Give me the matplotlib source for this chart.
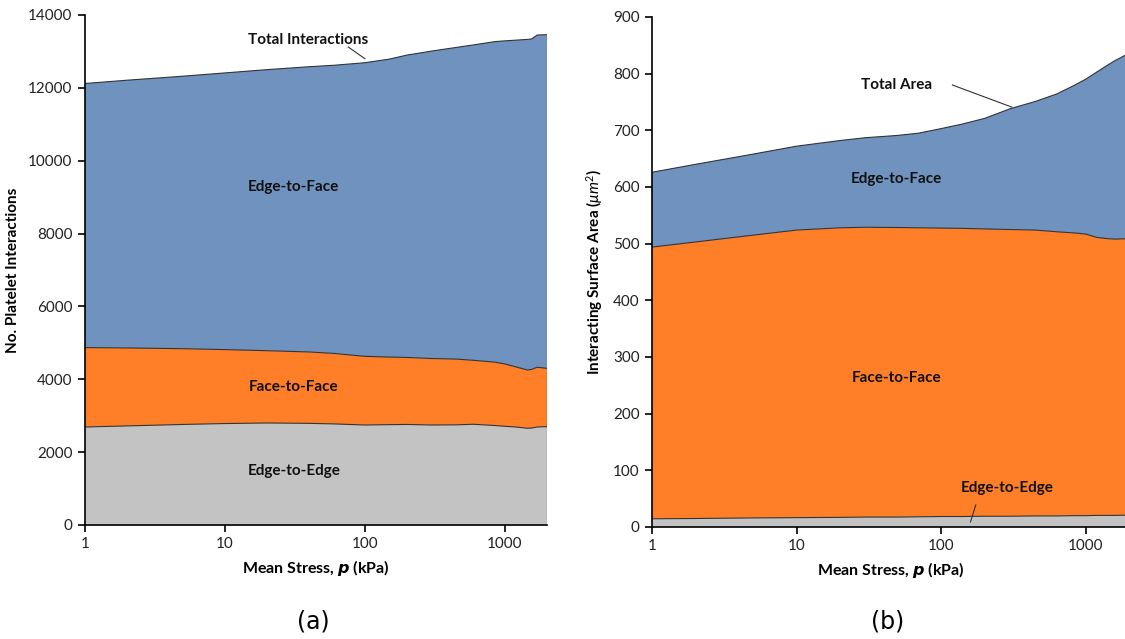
import matplotlib
matplotlib.use("Agg")
import matplotlib.pyplot as plt
import numpy as np

# ---- data (a) ----
stress_a = [1, 2, 5, 10, 20, 40, 60, 100, 150, 200, 300, 450, 600, 850, 1000, 1200, 1450, 1550, 1700, 2000]
edge_edge_a = [2690, 2720, 2760, 2785, 2800, 2790, 2775, 2745, 2755, 2760, 2745, 2750, 2765, 2730, 2710, 2690, 2655, 2660, 2690, 2700]
face_face_a = [2180, 2140, 2080, 2030, 1985, 1960, 1935, 1885, 1855, 1840, 1825, 1805, 1755, 1740, 1710, 1650, 1600, 1610, 1640, 1600]
edge_face_a = [7250, 7350, 7480, 7595, 7715, 7830, 7910, 8060, 8180, 8300, 8440, 8555, 8660, 8800, 8870, 8970, 9075, 9070, 9120, 9160]

# ---- data (b) ----
stress_b = [1, 2, 5, 10, 20, 30, 50, 70, 100, 140, 200, 300, 450, 630, 830, 1000, 1200, 1400, 1600, 2000]
edge_edge_b = [14.5, 15, 16, 16.5, 17, 17.5, 17.5, 18, 18.5, 18.5, 19, 19, 19.5, 19.5, 20, 20, 20.5, 20.5, 20.5, 21]
face_face_b = [479.5, 488, 499, 507.5, 511, 511.5, 511, 510, 509, 508.5, 507, 506, 504.5, 501.5, 499, 497, 490.5, 488.5, 487.5, 488]
edge_face_b = [132, 137, 143, 148, 154, 158, 162.5, 167, 175.5, 184, 195, 213, 227, 243, 260, 273, 292, 305, 315, 327]

xticks = [1, 10, 100, 1000]
xticklabels = ["1", "10", "100", "1000"]
yticks_a = list(range(0, 14001, 2000))
yticks_b = list(range(0, 901, 100))

C_GRAY = "#C3C3C3"
C_ORANGE = "#FE7F27"
C_BLUE = "#7092BE"
EDGE = "#333333"

FONT = "Lato"
plt.rcParams["font.family"] = [FONT, "DejaVu Sans"]
plt.rcParams["mathtext.fontset"] = "custom"
plt.rcParams["mathtext.it"] = FONT + ":italic"
plt.rcParams["mathtext.bf"] = FONT + ":bold:italic"
plt.rcParams["mathtext.rm"] = FONT

W, H = 1125, 639
fig = plt.figure(figsize=(W / 100, H / 100), dpi=100)

def px_axes(l, r, t, b):
    return fig.add_axes([l / W, 1 - b / H, (r - l) / W, (b - t) / H])

axa = px_axes(85, 547, 15, 525)
axb = px_axes(652, 1129, 17, 527)

def draw(ax, x, s1, s2, s3, ylim, yticks):
    x = np.asarray(x, float)
    s1 = np.asarray(s1, float); s2 = np.asarray(s2, float); s3 = np.asarray(s3, float)
    b1 = s1; b2 = s1 + s2; b3 = s1 + s2 + s3
    ax.fill_between(x, 0, b1, facecolor=C_GRAY, edgecolor="none", zorder=1)
    ax.fill_between(x, b1, b2, facecolor=C_ORANGE, edgecolor="none", zorder=1)
    ax.fill_between(x, b2, b3, facecolor=C_BLUE, edgecolor="none", zorder=1)
    for top in (b1, b2, b3):
        ax.plot(x, top, color=EDGE, lw=0.8, zorder=2)
    ax.plot([x[-1], x[-1]], [0, b3[-1]], color=EDGE, lw=0.8, zorder=2)
    ax.set_xscale("log")
    ax.set_xlim(x[0], x[-1])
    ax.set_ylim(*ylim)
    ax.set_xticks(xticks)
    ax.set_xticklabels(xticklabels)
    ax.xaxis.set_minor_locator(matplotlib.ticker.NullLocator())
    ax.set_yticks(yticks)
    ax.spines["top"].set_visible(False)
    ax.spines["right"].set_visible(False)
    for s in ("left", "bottom"):
        ax.spines[s].set_linewidth(1.2)
        ax.spines[s].set_color("black")
        ax.spines[s].set_zorder(5)
    ax.tick_params(direction="out", length=5, width=1.2, labelsize=11, colors="black", labelcolor="#222222", pad=4)
    ax.set_xlabel(r"Mean Stress, $\boldsymbol{p}$ (kPa)", fontsize=11.5, fontweight="bold", labelpad=5)

draw(axa, stress_a, edge_edge_a, face_face_a, edge_face_a, (0, 14000), yticks_a)
draw(axb, stress_b, edge_edge_b, face_face_b, edge_face_b, (0, 900), yticks_b)

axa.set_ylabel("No. Platelet Interactions", fontsize=11, fontweight="bold", labelpad=6)
axb.set_ylabel(r"Interacting Surface Area ($\mathit{\mu m^2}$)", fontsize=11, fontweight="bold", labelpad=6)

tk = dict(fontsize=11, fontweight="bold", ha="center", va="center", color="#111111", zorder=6)
axa.text(39, 13310, "Total Interactions", **tk)
axa.plot([76, 100], [13122, 12800], color=EDGE, lw=0.8, zorder=6)
axa.text(31, 9280, "Edge-to-Face", **tk)
axa.text(31, 3790, "Face-to-Face", **tk)
axa.text(31, 1480, "Edge-to-Edge", **tk)

axb.text(49, 780, "Total Area", **tk)
axb.plot([120, 309], [780, 741], color=EDGE, lw=0.8, zorder=6)
axb.text(49, 614, "Edge-to-Face", **tk)
axb.text(49, 263, "Face-to-Face", **tk)
axb.text(285, 69, "Edge-to-Edge", **tk)
axb.plot([174, 160], [39, 9], color=EDGE, lw=0.8, zorder=6)

fig.text(313 / W, 1 - 622 / H, "(a)", fontsize=17, family="DejaVu Sans", ha="center", va="center")
fig.text(888 / W, 1 - 622 / H, "(b)", fontsize=17, family="DejaVu Sans", ha="center", va="center")

fig.savefig("out.png", dpi=100)
